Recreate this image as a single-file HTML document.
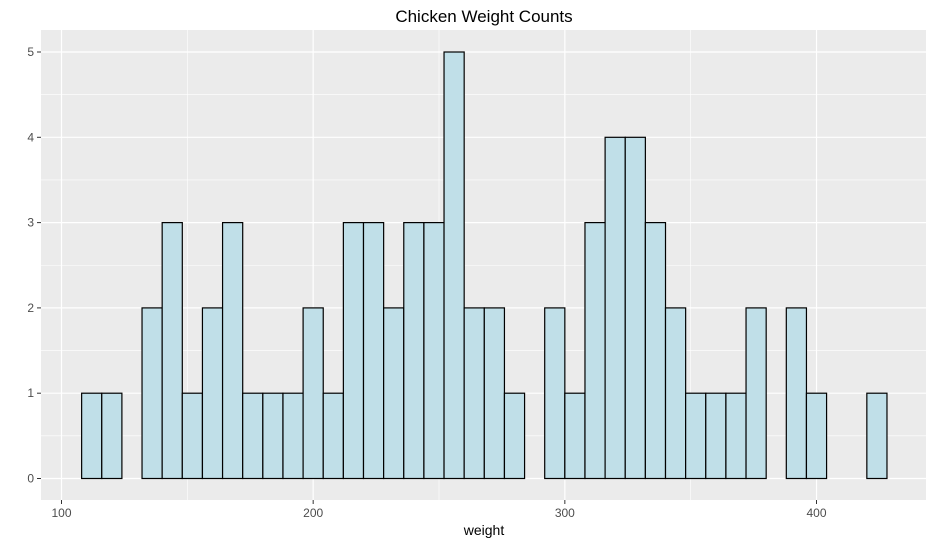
<!DOCTYPE html>
<html><head><meta charset="utf-8"><style>
body{margin:0;background:#fff;font-family:"Liberation Sans",Arial,sans-serif}
</style></head><body>
<svg id="c" width="934" height="545" xmlns="http://www.w3.org/2000/svg">
<text x="484" y="22" text-anchor="middle" font-size="17" fill="#000">Chicken Weight Counts</text>
<rect x="41" y="30" width="885" height="470" fill="#ebebeb"/>
<g id="grid"></g><g id="bars"></g><g id="axes"></g>
<text x="484" y="535" text-anchor="middle" font-size="14" fill="#000">weight</text>
</svg>
<script>
const binStart = 108;
const binWidth = 8;
const counts = [1,1,0,2,3,1,2,3,1,1,1,2,1,3,3,2,3,3,5,2,2,1,0,2,1,3,4,4,3,2,1,1,1,2,0,2,1,0,0,1];
const xTicks = [100,200,300,400];
const yTicks = [0,1,2,3,4,5];
const NS="http://www.w3.org/2000/svg";
const X=v=>61.5+(v-100)*2.5167;
const Y=v=>478.5-v*85.3;
function mk(t,a,p){const e=document.createElementNS(NS,t);for(const k in a)e.setAttribute(k,a[k]);p.appendChild(e);return e;}
const grid=document.getElementById('grid'),bars=document.getElementById('bars'),axes=document.getElementById('axes');
for(let v=50;v<=450;v+=50){const x=X(v);if(x<41||x>926)continue;
 const l=mk('line',{x1:x,x2:x,y1:30,y2:500,stroke:'#fff','stroke-width':v%100?0.6:1.2},grid);
 
 }
for(let v=-0.5;v<=5.5;v+=0.5){const y=Y(v);if(y<30||y>500)continue;
 const l=mk('line',{x1:41,x2:926,y1:y,y2:y,stroke:'#fff','stroke-width':v%1?0.6:1.2},grid);
 
 }
counts.forEach((c,i)=>{const x0=X(binStart+i*binWidth),x1=X(binStart+(i+1)*binWidth);
 const r=mk('rect',{x:x0,y:Y(c),width:x1-x0,height:Y(0)-Y(c),fill:'#c0dfe8',stroke:'#000','stroke-width':1.2},bars);
 
 });
xTicks.forEach(v=>{const x=X(v);
 mk('line',{x1:x,x2:x,y1:500,y2:504,stroke:'#333'},axes);
 const t=mk('text',{x:x,y:517,'text-anchor':'middle','font-size':12,fill:'#4d4d4d'},axes);t.textContent=v;
 
 });
yTicks.forEach(v=>{const y=Y(v);
 mk('line',{x1:37,x2:41,y1:y,y2:y,stroke:'#333'},axes);
 const t=mk('text',{x:34,y:y+4,'text-anchor':'end','font-size':12,fill:'#4d4d4d'},axes);t.textContent=v;
 
 });
</script>
</body></html>
